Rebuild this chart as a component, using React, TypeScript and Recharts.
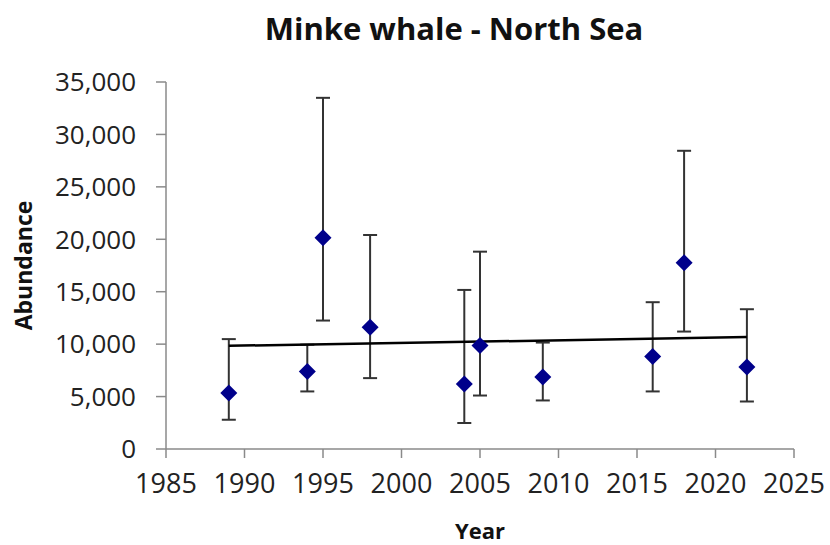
import { ComposedChart, Scatter, ErrorBar, XAxis, YAxis } from "recharts";

const years = [1989, 1994, 1995, 1998, 2004, 2005, 2009, 2016, 2018, 2022];
const abundance = [5330, 7390, 20150, 11620, 6190, 9870, 6860, 8820, 17770, 7810];
const lower = [2790, 5490, 12250, 6760, 2480, 5100, 4630, 5490, 11200, 4530];
const upper = [10480, 9950, 33490, 20410, 15170, 18820, 10150, 14000, 28440, 13330];

const trendYears = [1989, 2022];
const trendValues = [9840, 10670];

const xTicks = [1985, 1990, 1995, 2000, 2005, 2010, 2015, 2020, 2025];
const yTicks = [0, 5000, 10000, 15000, 20000, 25000, 30000, 35000];

const FONT = "'Open Sans', 'Noto Sans', sans-serif";
const AXIS = "#8a8a8a";

const points = years.map((y, i) => ({
  year: y,
  value: abundance[i],
  err: [abundance[i] - lower[i], upper[i] - abundance[i]],
}));
const trend = trendYears.map((y, i) => ({ year: y, value: trendValues[i] }));

const Diamond = (props: any) => {
  const { cx, cy } = props;
  const r = 8.5;
  return (
    <polygon
      points={`${cx},${cy - r} ${cx + r},${cy} ${cx},${cy + r} ${cx - r},${cy}`}
      fill="#00008b"
    />
  );
};

export default function App() {
  return (
    <div style={{ position: "absolute", left: 0, top: 0, width: 830, height: 545, background: "#fff" }}>
      <div
        style={{
          position: "absolute",
          left: 0,
          top: 8,
          width: 908,
          textAlign: "center",
          fontFamily: FONT,
          fontWeight: 700,
          fontSize: 31,
          lineHeight: "40px",
          color: "#111",
        }}
      >
        Minke whale - North Sea
      </div>
      <ComposedChart width={830} height={545} margin={{ top: 82, right: 36, left: 0, bottom: 0 }}>
        <XAxis
          type="number"
          dataKey="year"
          domain={[1985, 2025]}
          ticks={xTicks}
          height={96}
          stroke={AXIS}
          strokeWidth={1.5}
          tickSize={9}
          tickMargin={16}
          tick={{ fontSize: 27, fill: "#222", fontFamily: FONT }}
          label={{
            content: ({ viewBox }: any) => (
              <text
                x={viewBox.x + viewBox.width / 2}
                y={viewBox.y + 81}
                textAnchor="middle"
                dominantBaseline="central"
                fontFamily={FONT}
                fontWeight={700}
                fontSize={22}
                fill="#111"
              >
                Year
              </text>
            ),
          }}
        />
        <YAxis
          type="number"
          dataKey="value"
          domain={[0, 35000]}
          ticks={yTicks}
          width={166}
          stroke={AXIS}
          strokeWidth={1.5}
          tickSize={10}
          tickMargin={20}
          tickFormatter={(v: number) => v.toLocaleString("en-US")}
          tick={{ fontSize: 26, fill: "#222", fontFamily: FONT }}
          label={{
            content: ({ viewBox }: any) => {
              const cx = 23;
              const cy = viewBox.y + viewBox.height / 2;
              return (
                <text
                  x={cx}
                  y={cy}
                  transform={`rotate(-90 ${cx} ${cy})`}
                  textAnchor="middle"
                  dominantBaseline="central"
                  fontFamily={FONT}
                  fontWeight={700}
                  fontSize={23}
                  fill="#111"
                >
                  Abundance
                </text>
              );
            },
          }}
        />
        <Scatter
          data={trend}
          dataKey="value"
          line={{ stroke: "#000", strokeWidth: 2.5 }}
          shape={() => <g />}
          isAnimationActive={false}
        />
        <Scatter data={points} dataKey="value" shape={Diamond} isAnimationActive={false}>
          <ErrorBar dataKey="err" direction="y" width={7} stroke="#333" strokeWidth={2} />
        </Scatter>
      </ComposedChart>
    </div>
  );
}
